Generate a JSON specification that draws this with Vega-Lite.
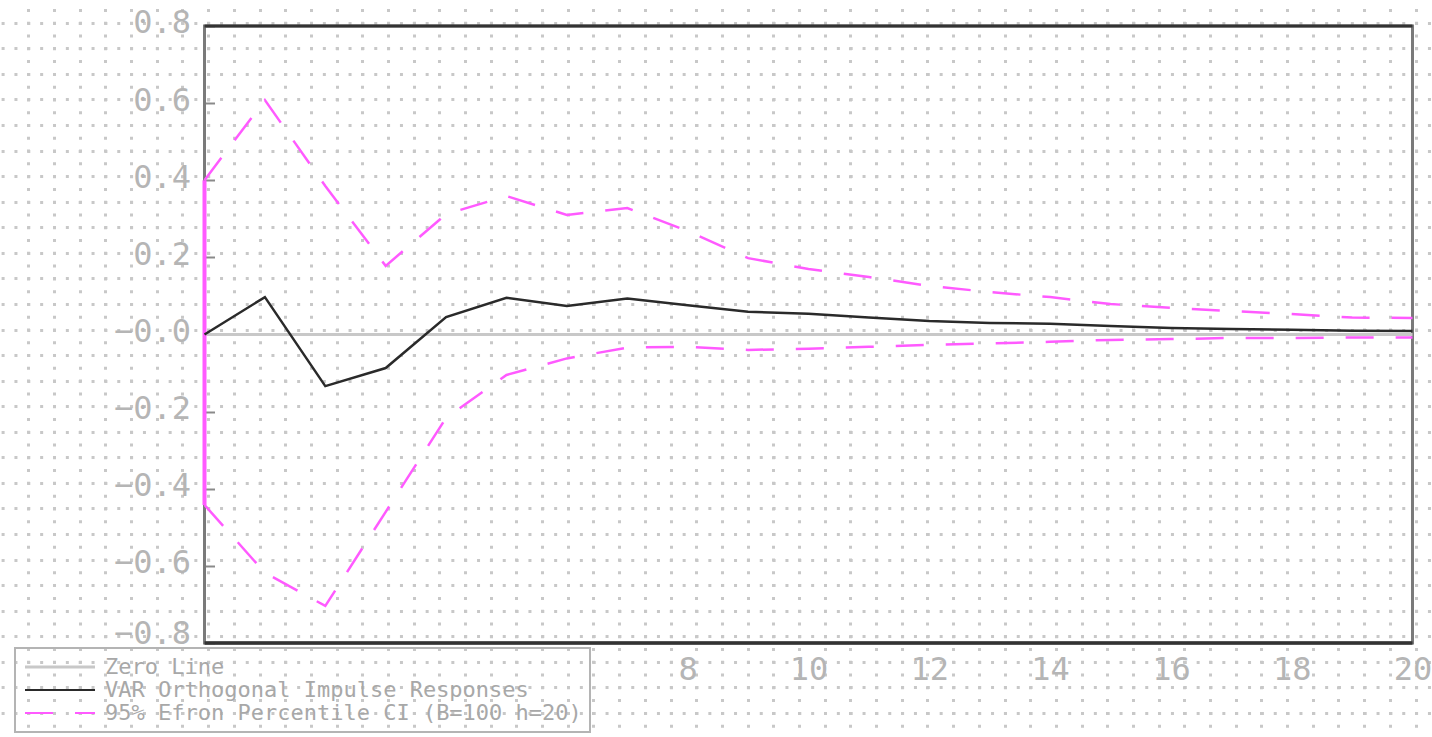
{
  "$schema": "https://vega.github.io/schema/vega-lite/v6.json",
  "width": 1432,
  "height": 737,
  "autosize": {"type": "none"},
  "padding": 0,
  "background": "white",
  "config": {"view": {"stroke": null}},
  "data": {"values": [
    {"h": 0, "irf": 0.0, "lo": -0.442, "hi": 0.400},
    {"h": 1, "irf": 0.097, "lo": -0.618, "hi": 0.608},
    {"h": 2, "irf": -0.134, "lo": -0.704, "hi": 0.385},
    {"h": 3, "irf": -0.087, "lo": -0.460, "hi": 0.178},
    {"h": 4, "irf": 0.045, "lo": -0.216, "hi": 0.312},
    {"h": 5, "irf": 0.095, "lo": -0.105, "hi": 0.359},
    {"h": 6, "irf": 0.074, "lo": -0.062, "hi": 0.310},
    {"h": 7, "irf": 0.093, "lo": -0.034, "hi": 0.328},
    {"h": 8, "irf": 0.076, "lo": -0.032, "hi": 0.268},
    {"h": 9, "irf": 0.059, "lo": -0.040, "hi": 0.198},
    {"h": 10, "irf": 0.054, "lo": -0.037, "hi": 0.170},
    {"h": 11, "irf": 0.044, "lo": -0.032, "hi": 0.149},
    {"h": 12, "irf": 0.035, "lo": -0.027, "hi": 0.126},
    {"h": 13, "irf": 0.030, "lo": -0.023, "hi": 0.110},
    {"h": 14, "irf": 0.028, "lo": -0.019, "hi": 0.097},
    {"h": 15, "irf": 0.022, "lo": -0.014, "hi": 0.079},
    {"h": 16, "irf": 0.017, "lo": -0.012, "hi": 0.069},
    {"h": 17, "irf": 0.014, "lo": -0.009, "hi": 0.061},
    {"h": 18, "irf": 0.012, "lo": -0.009, "hi": 0.053},
    {"h": 19, "irf": 0.010, "lo": -0.008, "hi": 0.044},
    {"h": 20, "irf": 0.009, "lo": -0.008, "hi": 0.043}
  ]},
  "resolve": {"scale": {"x": "independent", "y": "independent"}},
  "layer": [
    {
      "mark": {"type": "point", "opacity": 0},
      "encoding": {
        "x": {"field": "h", "type": "quantitative",
          "scale": {"domain": [-1.1016, 54.64], "nice": false, "zero": false},
          "axis": {"orient": "top", "title": null, "labels": false, "ticks": false, "domain": false,
            "grid": true, "gridColor": "#c8c8c8", "gridWidth": 3, "gridDash": [3, 9.78], "gridDashOffset": 4.28,
            "values": [0,1,2,3,4,5,6,7,8,9,10,11,12,13,14,15,16,17,18,19,20,21,22,23,24,25,26,27,28,29,30,31,32,33,34,35,36,37,38,39,40,41,42,43,44,45,46,47,48,49,50,51,52,53,54]}},
        "y": {"field": "irf", "type": "quantitative",
          "scale": {"domain": [-0.892, 27.942], "reverse": true, "nice": false, "zero": false},
          "axis": {"orient": "left", "title": null, "labels": false, "ticks": false, "domain": false,
            "grid": true, "gridColor": "#c8c8c8", "gridWidth": 3, "gridDash": [3, 9.85], "gridDashOffset": 11.75,
            "values": [0,1,2,3,4,5,6,7,8,9,10,11,12,13,14,15,16,17,18,19,20,21,22,23,24,25,26,27]}}
      }
    },
    {
      "layer": [
        {
          "data": {"values": [{}]},
          "mark": {"type": "rect", "filled": false, "color": "#7a7a7a", "strokeWidth": 3},
          "encoding": {
            "x": {"datum": 0, "type": "quantitative",
              "scale": {"domain": [-3.3858, 20.3228], "nice": false, "zero": false},
              "axis": {"orient": "bottom", "offset": -94, "title": null, "ticks": false, "domain": false, "grid": false,
                "values": [8, 10, 12, 14, 16, 18, 20], "format": "d", "labelFont": "DejaVu Sans Mono", "labelFontSize": 32,
                "labelColor": "#b5b5b5", "labelPadding": 11, "labelFlush": false, "labelOverlap": false}},
            "x2": {"datum": 20},
            "y": {"datum": -0.8, "type": "quantitative",
              "scale": {"domain": [-1.0438, 0.8674], "nice": false, "zero": false},
              "axis": {"orient": "left", "offset": -204.5, "title": null, "domain": false, "grid": false,
                "ticks": true, "tickSize": -10, "tickColor": "#8a8a8a", "tickWidth": 2,
                "values": [-0.8, -0.6, -0.4, -0.2, 0, 0.2, 0.4, 0.6, 0.8],
                "labelExpr": "datum.value == 0 ? '−0.0' : format(datum.value, '.1f')",
                "labelFont": "DejaVu Sans Mono", "labelFontSize": 32, "labelColor": "#b5b5b5",
                "labelPadding": 24,
                "labelOffset": {"condition": {"test": "datum.value < -0.7", "value": -9}, "value": -3},
                "labelFlush": false, "labelOverlap": false}},
            "y2": {"datum": 0.8}
          }
        },
        {
          "data": {"values": [{}]},
          "mark": {"type": "rule", "color": "#333333", "strokeWidth": 3},
          "encoding": {
            "x": {"datum": 0, "type": "quantitative"},
            "x2": {"datum": 20},
            "y": {"datum": 0.8, "type": "quantitative"}
          }
        },
        {
          "data": {"values": [{}]},
          "mark": {"type": "rule", "color": "#333333", "strokeWidth": 3.5},
          "encoding": {
            "x": {"datum": 0, "type": "quantitative"},
            "x2": {"datum": 20},
            "y": {"datum": -0.8, "type": "quantitative"}
          }
        },
        {
          "data": {"values": [{}]},
          "mark": {"type": "rule", "strokeWidth": 3},
          "encoding": {
            "x": {"datum": 0, "type": "quantitative"},
            "x2": {"datum": 20},
            "y": {"datum": 0, "type": "quantitative"},
            "color": {"datum": "Zero Line", "type": "nominal",
              "scale": {"domain": ["Zero Line", "VAR Orthogonal Impulse Responses", "95% Efron Percentile CI (B=100 h=20)"],
                        "range": ["#c8c8c8", "#2a2a2a", "#ff5aff"]},
              "legend": {"title": null, "orient": "none", "legendX": 15, "legendY": 648, "padding": 8,
                "symbolType": "stroke", "symbolSize": 4900, "symbolStrokeWidth": 2, "symbolOffset": 26,
                "labelFont": "DejaVu Sans Mono", "labelFontSize": 22, "labelColor": "#a8a8a8",
                "labelOffset": 34, "labelLimit": 1000, "rowPadding": 1, "strokeColor": "#b4b4b4",
                "encode": {
                  "legend": {"update": {"strokeWidth": {"value": 2}}},
                  "symbols": {"update": {
                    "strokeDash": {"signal": "datum.label === '95% Efron Percentile CI (B=100 h=20)' ? [28, 22] : [1, 0]"},
                    "strokeWidth": {"signal": "datum.label === 'Zero Line' ? 3 : 2"}
                  }}
                }}}
          }
        },
        {
          "mark": {"type": "line", "strokeWidth": 2.5, "strokeDash": [28, 22]},
          "encoding": {
            "x": {"field": "h", "type": "quantitative"},
            "y": {"field": "lo", "type": "quantitative"},
            "color": {"datum": "95% Efron Percentile CI (B=100 h=20)", "type": "nominal", "legend": null}
          }
        },
        {
          "mark": {"type": "line", "strokeWidth": 2.5, "strokeDash": [28, 22]},
          "encoding": {
            "x": {"field": "h", "type": "quantitative"},
            "y": {"field": "hi", "type": "quantitative"},
            "color": {"datum": "95% Efron Percentile CI (B=100 h=20)", "type": "nominal", "legend": null}
          }
        },
        {
          "transform": [{"filter": "datum.h == 0"}],
          "mark": {"type": "rule", "strokeWidth": 4},
          "encoding": {
            "x": {"field": "h", "type": "quantitative"},
            "y": {"field": "hi", "type": "quantitative"},
            "y2": {"field": "lo"},
            "color": {"datum": "95% Efron Percentile CI (B=100 h=20)", "type": "nominal", "legend": null}
          }
        },
        {
          "mark": {"type": "line", "strokeWidth": 2.5},
          "encoding": {
            "x": {"field": "h", "type": "quantitative"},
            "y": {"field": "irf", "type": "quantitative"},
            "color": {"datum": "VAR Orthogonal Impulse Responses", "type": "nominal", "legend": null}
          }
        }
      ]
    }
  ]
}
